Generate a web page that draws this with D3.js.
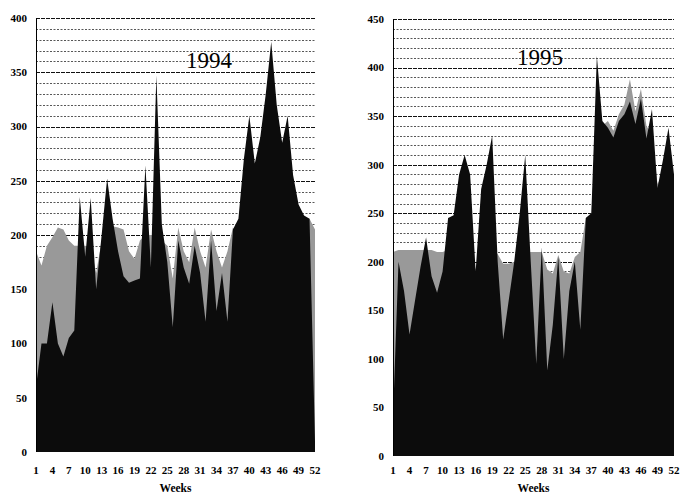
<!DOCTYPE html>
<html>
<head>
<meta charset="utf-8">
<script src="https://cdn.jsdelivr.net/npm/d3@7"></script>
<style>
  html, body { margin: 0; padding: 0; background: #fff; }
  svg { display: block; }
  text { font-family: "Liberation Serif", "DejaVu Serif", serif; }
</style>
</head>
<body>
<svg id="chart" width="682" height="501"></svg>
<script>
// ---- data ----
const weeks = d3.range(1, 53);
const weekTicks = [1, 4, 7, 10, 13, 16, 19, 22, 25, 28, 31, 34, 37, 40, 43, 46, 49, 52];
const yTicks1994 = [0, 50, 100, 150, 200, 250, 300, 350, 400];
const yTicks1995 = [0, 50, 100, 150, 200, 250, 300, 350, 400, 450];

const black1994 = [60, 100, 100, 138, 100, 88, 105, 112, 235, 180,
                   234, 150, 200, 252, 215, 185, 162, 156, 158, 160,
                   264, 170, 347, 210, 175, 115, 195, 170, 155, 190,
                   165, 120, 195, 130, 165, 120, 205, 215, 270, 310,
                   266, 290, 330, 378, 320, 285, 310, 255, 228, 218,
                   215, 10];
const grey1994 = [185, 172, 190, 198, 207, 205, 195, 190, 190, 190,
                  188, 165, 195, 205, 208, 207, 205, 185, 178, 195,
                  200, 200, 200, 195, 190, 160, 207, 185, 175, 207,
                  185, 170, 205, 185, 170, 185, 207, 200, 200, 205,
                  210, 215, 220, 225, 225, 225, 222, 220, 218, 216,
                  215, 205];

const black1995 = [40, 200, 170, 125, 160, 195, 225, 185, 168, 190,
                   245, 248, 290, 310, 290, 190, 275, 300, 330, 200,
                   120, 160, 200, 250, 310, 200, 95, 215, 88, 135,
                   205, 100, 170, 200, 130, 245, 250, 412, 345, 338,
                   328, 345, 352, 365, 342, 368, 327, 357, 276, 305,
                   338, 290];
const grey1995 = [210, 212, 212, 212, 212, 212, 212, 212, 210, 210,
                  212, 212, 212, 212, 212, 192, 210, 210, 210, 208,
                  198, 198, 200, 208, 210, 210, 210, 210, 192, 188,
                  207, 190, 188, 205, 210, 245, 250, 340, 340, 345,
                  335, 352, 362, 388, 355, 378, 340, 330, 280, 290,
                  300, 290];

// ---- drawing ----
const svg = d3.select("#chart");

const panels = [
  { title: "1994", black: black1994, grey: grey1994, yMax: 400, yTicks: yTicks1994,
    x0: 36, x1: 315, y0: 452, y1: 18, titleX: 209, titleY: 68 },
  { title: "1995", black: black1995, grey: grey1995, yMax: 450, yTicks: yTicks1995,
    x0: 393, x1: 674, y0: 456, y1: 19, titleX: 540, titleY: 65 }
];

panels.forEach(p => {
  const g = svg.append("g");
  const x = d3.scaleLinear().domain([1, 52]).range([p.x0, p.x1]);
  const y = d3.scaleLinear().domain([0, p.yMax]).range([p.y0, p.y1]);

  // grid lines every 10 units
  const gridVals = d3.range(10, p.yMax + 1, 10);
  g.selectAll("line.grid").data(gridVals).join("line")
    .attr("x1", p.x0).attr("x2", p.x1)
    .attr("y1", d => Math.round(y(d)) + 0.5).attr("y2", d => Math.round(y(d)) + 0.5)
    .attr("stroke", d => d % 50 === 0 ? "#111" : "#444")
    .attr("stroke-width", d => d % 50 === 0 ? 1.1 : 0.9)
    .attr("stroke-dasharray", d => d % 50 === 0 ? "4,1" : "2,1.5");

  const area = vals => d3.area()
    .x((d, i) => x(weeks[i]))
    .y0(y(0))
    .y1(d => y(d))(vals);

  g.append("path").attr("d", area(p.grey)).attr("fill", "#999");
  g.append("path").attr("d", area(p.black)).attr("fill", "#0c0c0c");

  // y axis line
  g.append("line")
    .attr("x1", p.x0 + 0.5).attr("x2", p.x0 + 0.5)
    .attr("y1", y(p.yMax)).attr("y2", y(0))
    .attr("stroke", "#000").attr("stroke-width", 1);

  // y tick labels
  g.selectAll("text.ytick").data(p.yTicks).join("text")
    .attr("x", p.x0 - 9).attr("y", d => y(d))
    .attr("dy", "0.35em")
    .attr("text-anchor", "end")
    .attr("font-size", 11).attr("font-weight", "bold")
    .text(d => d);

  // x tick labels
  g.selectAll("text.xtick").data(weekTicks).join("text")
    .attr("x", d => x(d)).attr("y", 474)
    .attr("text-anchor", "middle")
    .attr("font-size", 11).attr("font-weight", "bold")
    .text(d => d);

  // axis title
  g.append("text")
    .attr("x", (p.x0 + p.x1) / 2).attr("y", 492)
    .attr("text-anchor", "middle")
    .attr("font-size", 11.5).attr("font-weight", "bold")
    .text("Weeks");

  // panel title
  g.append("text")
    .attr("x", p.titleX).attr("y", p.titleY)
    .attr("text-anchor", "middle")
    .attr("font-size", 23)
    .text(p.title);
});
</script>
</body>
</html>
